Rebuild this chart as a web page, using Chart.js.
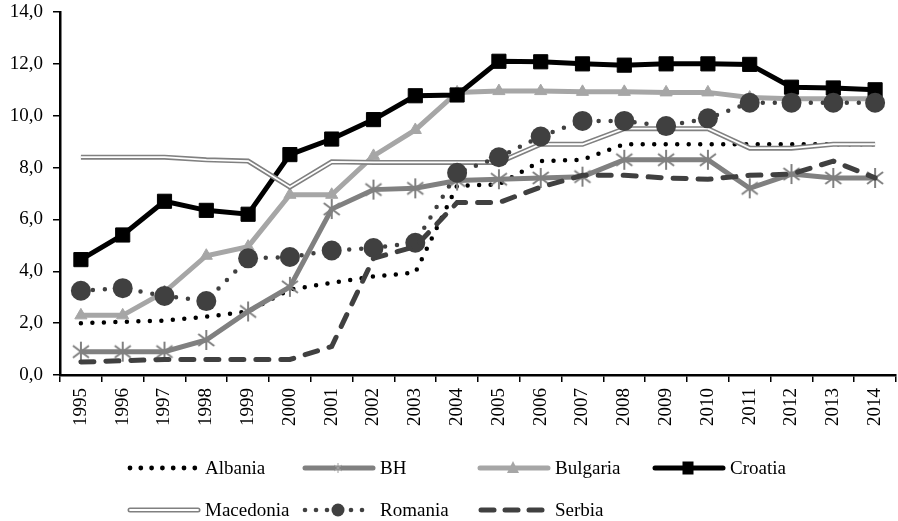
<!DOCTYPE html>
<html>
<head>
<meta charset="utf-8">
<script src="https://cdn.jsdelivr.net/npm/chart.js@4/dist/chart.umd.min.js"></script>
<style>html,body{margin:0;padding:0;background:#fff;}canvas{display:block;}</style>
</head>
<body>
<canvas id="c" width="898" height="521"></canvas>
<script>
const years = ['1995','1996','1997','1998','1999','2000','2001','2002','2003','2004','2005','2006','2007','2008','2009','2010','2011','2012','2013','2014'];
const yTicks = [0, 2, 4, 6, 8, 10, 12, 14];
const albania   = [2.0, 2.05, 2.1, 2.25, 2.45, 3.3, 3.55, 3.8, 3.95, 7.3, 7.35, 8.25, 8.3, 8.9, 8.9, 8.9, 8.9, 8.9, 8.9, 8.9];
const bh        = [0.9, 0.9, 0.9, 1.35, 2.45, 3.4, 6.4, 7.15, 7.2, 7.5, 7.55, 7.6, 7.65, 8.3, 8.3, 8.3, 7.2, 7.75, 7.6, 7.6];
const bulgaria  = [2.3, 2.3, 3.2, 4.6, 4.95, 6.95, 6.95, 8.45, 9.45, 10.9, 10.95, 10.95, 10.92, 10.92, 10.9, 10.9, 10.7, 10.65, 10.65, 10.65];
const croatia   = [4.45, 5.4, 6.7, 6.35, 6.2, 8.5, 9.1, 9.85, 10.77, 10.8, 12.1, 12.08, 12.0, 11.95, 12.0, 12.0, 11.98, 11.1, 11.07, 11.0];
const macedonia = [8.4, 8.4, 8.4, 8.3, 8.25, 7.25, 8.22, 8.2, 8.2, 8.2, 8.2, 8.9, 8.9, 9.5, 9.5, 9.5, 8.75, 8.75, 8.9, 8.9];
const romania   = [3.25, 3.35, 3.05, 2.85, 4.5, 4.55, 4.8, 4.9, 5.1, 7.8, 8.4, 9.2, 9.8, 9.8, 9.6, 9.9, 10.5, 10.5, 10.5, 10.5];
const serbia    = [0.5, 0.55, 0.6, 0.6, 0.6, 0.6, 1.1, 4.5, 4.95, 6.65, 6.65, 7.25, 7.7, 7.7, 7.6, 7.55, 7.7, 7.75, 8.25, 7.6];
const seriesNames = ['Albania','BH','Bulgaria','Croatia','Macedonia','Romania','Serbia'];

const FONT = '"Liberation Serif", "Times New Roman", serif';
const FSIZE = 19;

function makeAsterisk(r, color, lw) {
  const s = Math.ceil(2 * r + lw + 2);
  const c = document.createElement('canvas');
  c.width = s; c.height = s;
  const g = c.getContext('2d');
  g.strokeStyle = color; g.lineWidth = lw; g.lineCap = 'butt';
  const cx = s / 2;
  g.beginPath();
  g.moveTo(cx, cx - r); g.lineTo(cx, cx + r);
  const d = r * 0.8;
  g.moveTo(cx - d, cx - d * 0.75); g.lineTo(cx + d, cx + d * 0.75);
  g.moveTo(cx - d, cx + d * 0.75); g.lineTo(cx + d, cx - d * 0.75);
  g.stroke();
  return c;
}
const astBig = makeAsterisk(10, '#808080', 2);

const datasets = [
  { label: 'Albania', data: albania, borderColor: '#000', borderWidth: 4.5, borderDash: [0, 11.5], borderCapStyle: 'round', pointRadius: 0, order: 10 },
  { label: 'BH', data: bh, borderColor: '#808080', borderWidth: 5, pointStyle: astBig, pointRadius: 10, order: 9 },
  { label: 'Bulgaria', data: bulgaria, borderColor: '#A6A6A6', borderWidth: 5, pointStyle: 'triangle', pointRadius: 7, pointBackgroundColor: '#A6A6A6', pointBorderColor: '#A6A6A6', pointBorderWidth: 1, order: 8 },
  { label: 'Croatia', data: croatia, borderColor: '#000', borderWidth: 5, pointStyle: 'rect', pointRadius: 10, pointBackgroundColor: '#000', pointBorderColor: '#000', pointBorderWidth: 1, order: 7 },
  { label: 'Macedonia', data: macedonia, borderColor: '#808080', borderWidth: 5, pointRadius: 0, order: 6 },
  { label: '_macInner', data: macedonia, borderColor: '#ffffff', borderWidth: 1.8, pointRadius: 0, order: 5.5 },
  { label: 'Romania', data: romania, borderColor: '#404040', borderWidth: 4.5, borderDash: [0, 12], borderCapStyle: 'round', pointStyle: 'circle', pointRadius: 10, pointBackgroundColor: '#404040', pointBorderColor: '#404040', pointBorderWidth: 0, order: 5 },
  { label: 'Serbia', data: serbia, borderColor: '#404040', borderWidth: 5, borderDash: [13, 12], borderCapStyle: 'round', pointRadius: 0, order: 4 }
];
datasets.forEach(d => { d.tension = 0; d.fill = false; d.pointHoverRadius = d.pointRadius; });

const legendPlugin = {
  id: 'customLegend',
  afterDraw(chart) {
    const ctx = chart.ctx;
    const cols = [128, 303, 478, 653];
    const rows = [468, 510];
    const L = 70;
    ctx.save();
    seriesNames.forEach((name, i) => {
      const x0 = cols[i % 4];
      const y = rows[Math.floor(i / 4)];
      const x1 = x0 + L;
      const xm = (x0 + x1) / 2;
      const ds = chart.data.datasets.find(d => d.label === name);
      ctx.save();
      ctx.lineCap = 'round';
      ctx.setLineDash([]);
      if (name === 'Albania') {
        ctx.fillStyle = '#000';
        for (let k = 0; k < 7; k++) { ctx.beginPath(); ctx.arc(x0 + 2 + k * 10.8, y, 2.4, 0, Math.PI * 2); ctx.fill(); }
      } else if (name === 'Romania') {
        ctx.fillStyle = '#404040';
        [x0 + 2, x0 + 13, x0 + 24, x1 - 22, x1 - 11].forEach(px => { ctx.beginPath(); ctx.arc(px, y, 2.3, 0, Math.PI * 2); ctx.fill(); });
        ctx.beginPath(); ctx.arc(xm, y, 6.5, 0, Math.PI * 2); ctx.fill();
      } else if (name === 'Serbia') {
        ctx.strokeStyle = '#404040'; ctx.lineWidth = 5; ctx.lineCap = 'round';
        for (let k = 0; k < 3; k++) { ctx.beginPath(); ctx.moveTo(x0 + 3 + k * 24, y); ctx.lineTo(x0 + 16 + k * 24, y); ctx.stroke(); }
      } else if (name === 'Macedonia') {
        ctx.strokeStyle = '#808080'; ctx.lineWidth = 5;
        ctx.beginPath(); ctx.moveTo(x0 + 2, y); ctx.lineTo(x1, y); ctx.stroke();
        ctx.strokeStyle = '#fff'; ctx.lineWidth = 1.8;
        ctx.beginPath(); ctx.moveTo(x0 + 2, y); ctx.lineTo(x1, y); ctx.stroke();
      } else {
        ctx.strokeStyle = ds.borderColor; ctx.lineWidth = 5;
        ctx.beginPath(); ctx.moveTo(x0 + 2, y); ctx.lineTo(x1, y); ctx.stroke();
        ctx.fillStyle = ds.borderColor;
        if (name === 'Croatia') {
          ctx.fillRect(xm - 5.5, y - 6.5, 11, 13);
        } else if (name === 'Bulgaria') {
          ctx.beginPath(); ctx.moveTo(xm, y - 7); ctx.lineTo(xm + 6, y + 5); ctx.lineTo(xm - 6, y + 5); ctx.closePath(); ctx.fill();
        } else if (name === 'BH') {
          ctx.strokeStyle = '#A0A0A0'; ctx.lineWidth = 1; ctx.lineCap = 'butt';
          ctx.beginPath();
          ctx.moveTo(xm, y - 5); ctx.lineTo(xm, y + 5);
          ctx.moveTo(xm - 4, y - 3); ctx.lineTo(xm + 4, y + 3);
          ctx.moveTo(xm - 4, y + 3); ctx.lineTo(xm + 4, y - 3);
          ctx.stroke();
        }
      }
      ctx.restore();
      ctx.fillStyle = '#000';
      ctx.font = FSIZE + 'px ' + FONT;
      ctx.textBaseline = 'middle';
      ctx.textAlign = 'left';
      ctx.fillText(name, x0 + 77, y + 1);
    });
    ctx.restore();
  }
};

new Chart(document.getElementById('c'), {
  type: 'line',
  data: { labels: years, datasets: datasets },
  options: {
    responsive: false,
    animation: false,
    events: [],
    layout: { autoPadding: false, padding: { top: 12, right: 2, left: 0, bottom: 0 } },
    plugins: { legend: { display: false }, tooltip: { enabled: false } },
    scales: {
      x: {
        type: 'category',
        offset: true,
        grid: { offset: true, drawOnChartArea: false, tickLength: 7, color: '#000', lineWidth: 1.5 },
        border: { color: '#000', width: 2.5 },
        ticks: { minRotation: 90, maxRotation: 90, autoSkip: false, padding: 6, color: '#000', font: { family: FONT, size: FSIZE } },
        afterFit(s) { s.height = 146; s.paddingLeft = 0; s.paddingRight = 0; }
      },
      y: {
        min: 0, max: 14,
        afterBuildTicks(s) { s.ticks = yTicks.map(v => ({ value: v })); },
        grid: { drawOnChartArea: false, tickLength: 7, color: '#000', lineWidth: 1.5 },
        border: { color: '#000', width: 2.5 },
        ticks: { padding: 10, color: '#000', font: { family: FONT, size: FSIZE }, callback: v => v.toFixed(1).replace('.', ',') },
        afterFit(s) { s.width = 60; s.paddingTop = 0; s.paddingBottom = 0; }
      }
    }
  },
  plugins: [legendPlugin]
});
</script>
</body>
</html>
